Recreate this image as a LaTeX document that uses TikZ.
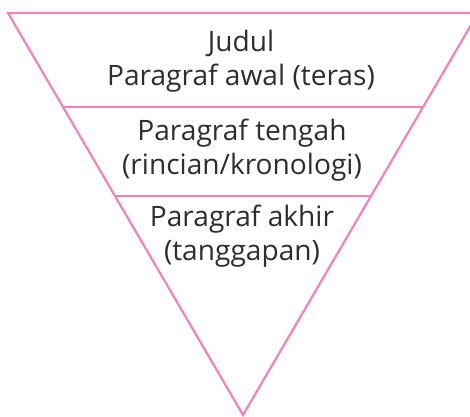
\documentclass[tikz,border=0pt]{standalone}
\usepackage{fontspec}
\setmainfont{Open Sans}
\definecolor{pinkline}{HTML}{F283B8}
\definecolor{textgray}{HTML}{2E2E2E}
\begin{document}
\begin{tikzpicture}[x=0.02cm, y=-0.02cm]
	\tikzset{layer/.style={draw=pinkline, line width=1.25pt},
		label/.style={text=textgray, font=\fontsize{16}{19.5}\selectfont, align=center}}
		\clip (0,0) rectangle (470,416);
		\coordinate (tl) at (8,13);
		\coordinate (tr) at (478,13);
		\coordinate (tip) at (243,415);
		\coordinate (l1) at (63,107);
		\coordinate (r1) at (423,107);
		\coordinate (l2) at (115,196);
		\coordinate (r2) at (371,196);
		
	    \draw[layer, line join=miter] (tl) -- (tr) -- (tip) -- cycle;
		\draw[layer] (l1) -- (r1);
		\draw[layer] (l2) -- (r2);
		
		\node[label] (top) at (241,61) {Judul\\Paragraf awal (teras)};
		\node[label] (mid) at (242,150) {Paragraf tengah\\(rincian/kronologi)};
		\node[label] (low) at (242,236) {Paragraf akhir\\(tanggapan)};
	
	\end{tikzpicture}
\end{document}
